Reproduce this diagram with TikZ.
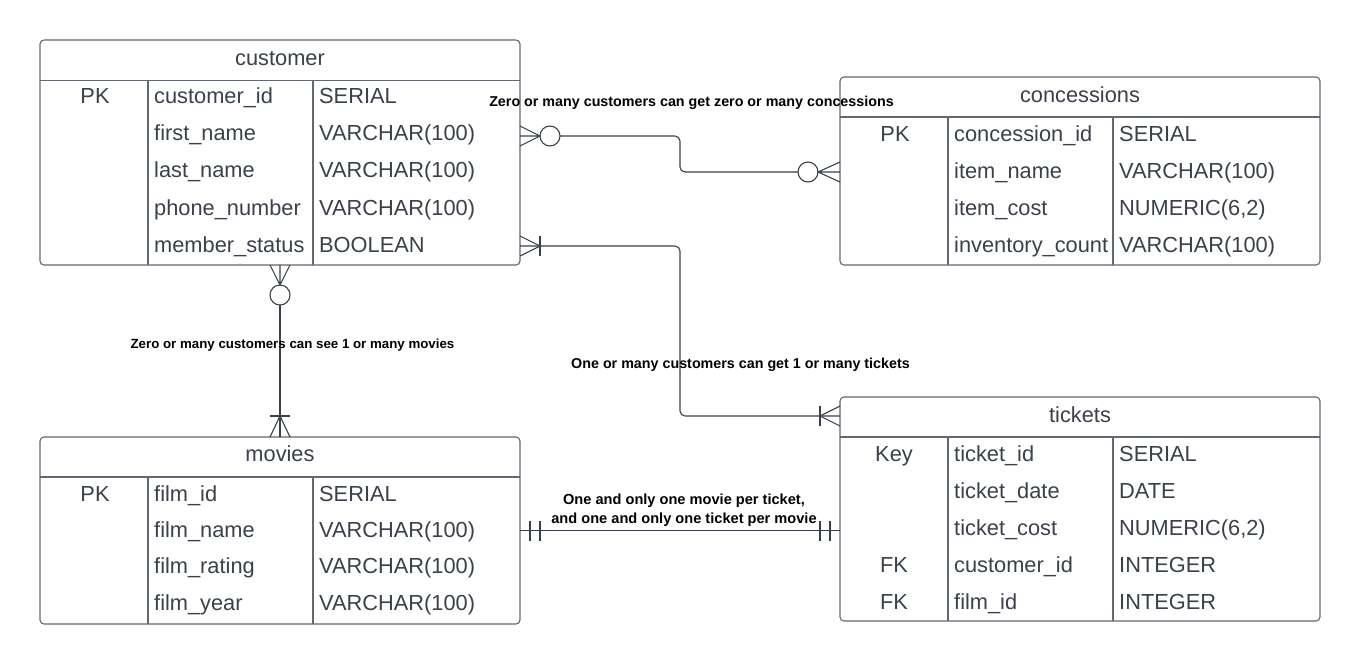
\documentclass[tikz,border=0pt]{standalone}
\usepackage{fontspec}
\setmainfont{Liberation Sans}
\usetikzlibrary{calc}
\definecolor{txt}{RGB}{58,65,74}
\definecolor{bord}{RGB}{98,104,113}
\definecolor{conn}{RGB}{58,65,74}
\begin{document}
\begin{tikzpicture}[x=1pt,y=-1pt,
  tbl/.style={draw=bord, line width=1.1pt, rounded corners=4pt, inner sep=0pt, outer sep=0pt, minimum width=480pt},
  sep/.style={draw=bord, line width=1.1pt},
  cell/.style={font=\fontsize{21.8}{24}\selectfont, text=txt, inner sep=0pt},
  lbl/.style={font=\fontsize{14.3}{18}\selectfont\bfseries, text=black, inner sep=0pt, align=center},
  cn/.style={draw=conn, line width=1.1pt},
  circ/.style={circle, draw=conn, line width=1.1pt, minimum size=20pt, inner sep=0pt, outer sep=0pt},
]
\fill[white] (0,0) rectangle (1360,665);
\path[use as bounding box] (0,0) rectangle (1360,665);

% ---------------- customer ----------------
\node[tbl, minimum height=225pt] (customer) at (280,152.5) {};
\draw[sep] (40,80.5) -- (520,80.5) (148,80.5) -- (148,265) (313,80.5) -- (313,265);
\node[cell, anchor=base] (cu-h) at (280,65) {customer};
\node[cell, anchor=base] (cu-k1) at (95,103) {PK};
\node[cell, anchor=base west] (cu-n1) at (154,103) {customer\_id};
\node[cell, anchor=base west] (cu-t1) at (319,103) {SERIAL};
\node[cell, anchor=base west] (cu-n2) at (154,140) {first\_name};
\node[cell, anchor=base west] (cu-t2) at (319,140) {VARCHAR(100)};
\node[cell, anchor=base west] (cu-n3) at (154,177.5) {last\_name};
\node[cell, anchor=base west] (cu-t3) at (319,177.5) {VARCHAR(100)};
\node[cell, anchor=base west] (cu-n4) at (154,215) {phone\_number};
\node[cell, anchor=base west] (cu-t4) at (319,215) {VARCHAR(100)};
\node[cell, anchor=base west] (cu-n5) at (154,252) {member\_status};
\node[cell, anchor=base west] (cu-t5) at (319,252) {BOOLEAN};

% ---------------- concessions ----------------
\node[tbl, minimum height=188pt] (concessions) at (1080,171) {};
\draw[sep] (840,117) -- (1320,117) (948,117) -- (948,265) (1113,117) -- (1113,265);
\node[cell, anchor=base] (co-h) at (1080,102) {concessions};
\node[cell, anchor=base] (co-k1) at (895,141) {PK};
\node[cell, anchor=base west] (co-n1) at (954,141) {concession\_id};
\node[cell, anchor=base west] (co-t1) at (1119,141) {SERIAL};
\node[cell, anchor=base west] (co-n2) at (954,178) {item\_name};
\node[cell, anchor=base west] (co-t2) at (1119,178) {VARCHAR(100)};
\node[cell, anchor=base west] (co-n3) at (954,215) {item\_cost};
\node[cell, anchor=base west] (co-t3) at (1119,215) {NUMERIC(6,2)};
\node[cell, anchor=base west] (co-n4) at (954,252) {inventory\_count};
\node[cell, anchor=base west] (co-t4) at (1119,252) {VARCHAR(100)};

% ---------------- tickets ----------------
\node[tbl, minimum height=224pt] (tickets) at (1080,509) {};
\draw[sep] (840,437) -- (1320,437) (948,437) -- (948,621) (1113,437) -- (1113,621);
\node[cell, anchor=base] (ti-h) at (1080,422) {tickets};
\node[cell, anchor=base] (ti-k1) at (894,461) {Key};
\node[cell, anchor=base west] (ti-n1) at (954,461) {ticket\_id};
\node[cell, anchor=base west] (ti-t1) at (1119,461) {SERIAL};
\node[cell, anchor=base west] (ti-n2) at (954,498) {ticket\_date};
\node[cell, anchor=base west] (ti-t2) at (1119,498) {DATE};
\node[cell, anchor=base west] (ti-n3) at (954,535) {ticket\_cost};
\node[cell, anchor=base west] (ti-t3) at (1119,535) {NUMERIC(6,2)};
\node[cell, anchor=base] (ti-k4) at (894,572) {FK};
\node[cell, anchor=base west] (ti-n4) at (954,572) {customer\_id};
\node[cell, anchor=base west] (ti-t4) at (1119,572) {INTEGER};
\node[cell, anchor=base] (ti-k5) at (894,609) {FK};
\node[cell, anchor=base west] (ti-n5) at (954,609) {film\_id};
\node[cell, anchor=base west] (ti-t5) at (1119,609) {INTEGER};

% ---------------- movies ----------------
\node[tbl, minimum height=187pt] (movies) at (280,530.5) {};
\draw[sep] (40,477) -- (520,477) (148,477) -- (148,624) (313,477) -- (313,624);
\node[cell, anchor=base] (mo-h) at (280,461) {movies};
\node[cell, anchor=base] (mo-k1) at (95,501) {PK};
\node[cell, anchor=base west] (mo-n1) at (154,501) {film\_id};
\node[cell, anchor=base west] (mo-t1) at (319,501) {SERIAL};
\node[cell, anchor=base west] (mo-n2) at (154,537) {film\_name};
\node[cell, anchor=base west] (mo-t2) at (319,537) {VARCHAR(100)};
\node[cell, anchor=base west] (mo-n3) at (154,573) {film\_rating};
\node[cell, anchor=base west] (mo-t3) at (319,573) {VARCHAR(100)};
\node[cell, anchor=base west] (mo-n4) at (154,610) {film\_year};
\node[cell, anchor=base west] (mo-t4) at (319,610) {VARCHAR(100)};

% ---------------- customer -- concessions (zero/many : zero/many) ----------------
\node[circ] (o1) at (550,136) {};
\node[circ] (o2) at (808,172) {};
\coordinate (e1) at (customer.east|-o1);
\coordinate (f1) at (concessions.west|-o2);
\draw[cn] ($(e1)+(0,-10)$) -- (o1.west) -- ($(e1)+(0,10)$) (e1) -- (o1.west);
\draw[cn, rounded corners=5pt] (o1.east) -- (680,136) -- (680,172) -- (o2.west);
\draw[cn] ($(f1)+(0,-10)$) -- (o2.east) -- ($(f1)+(0,10)$) (f1) -- (o2.east);

% ---------------- customer -- tickets (one/many : one/many) ----------------
\coordinate (m2a) at (540,246);
\coordinate (m2b) at (820,416);
\coordinate (e2) at (customer.east|-m2a);
\coordinate (f2) at (tickets.west|-m2b);
\draw[cn] ($(e2)+(0,-10)$) -- (m2a) -- ($(e2)+(0,10)$);
\draw[cn] ($(m2a)+(0,-10)$) -- ($(m2a)+(0,10)$);
\draw[cn, rounded corners=5pt] (e2) -- (680,246) -- (680,416) -- (f2);
\draw[cn] ($(f2)+(0,-10)$) -- (m2b) -- ($(f2)+(0,10)$);
\draw[cn] ($(m2b)+(0,-10)$) -- ($(m2b)+(0,10)$);

% ---------------- customer -- movies (zero/many : one/many) ----------------
\node[circ] (o3) at (280,295) {};
\coordinate (e3) at (customer.south);
\coordinate (f3) at (movies.north);
\coordinate (m3) at (280,416);
\draw[cn] ($(e3)+(-10,0)$) -- (o3.north) -- ($(e3)+(10,0)$) (e3) -- (o3.north);
\draw[cn] (o3.south) -- (f3);
\draw[cn] ($(m3)+(-10,0)$) -- ($(m3)+(10,0)$);
\draw[cn] ($(f3)+(-10,0)$) -- (m3) -- ($(f3)+(10,0)$);

% ---------------- movies -- tickets (one and only one) ----------------
\coordinate (e4) at (movies.east);
\coordinate (f4) at (tickets.west|-movies.east);
\draw[cn] (e4) -- (f4);
\draw[cn] ($(e4)+(10,-10)$) -- ($(e4)+(10,10)$) ($(e4)+(20,-10)$) -- ($(e4)+(20,10)$);
\draw[cn] ($(f4)+(-10,-10)$) -- ($(f4)+(-10,10)$) ($(f4)+(-20,-10)$) -- ($(f4)+(-20,10)$);

% ---------------- labels ----------------
\node[lbl, anchor=base] (l1) at (691.5,106) {Zero or many customers can get zero or many concessions};
\node[lbl, anchor=base, font=\fontsize{13.3}{18}\selectfont\bfseries] (l2) at (292.5,348) {Zero or many customers can see 1 or many movies};
\node[lbl, anchor=base] (l3) at (740.5,368) {One or many customers can get 1 or many tickets};
\node[lbl, anchor=base, font=\fontsize{14.6}{18.5}\selectfont\bfseries] (l4) at (684,523) {One and only one movie per ticket,\\ and one and only one ticket per movie};
\end{tikzpicture}
\end{document}
